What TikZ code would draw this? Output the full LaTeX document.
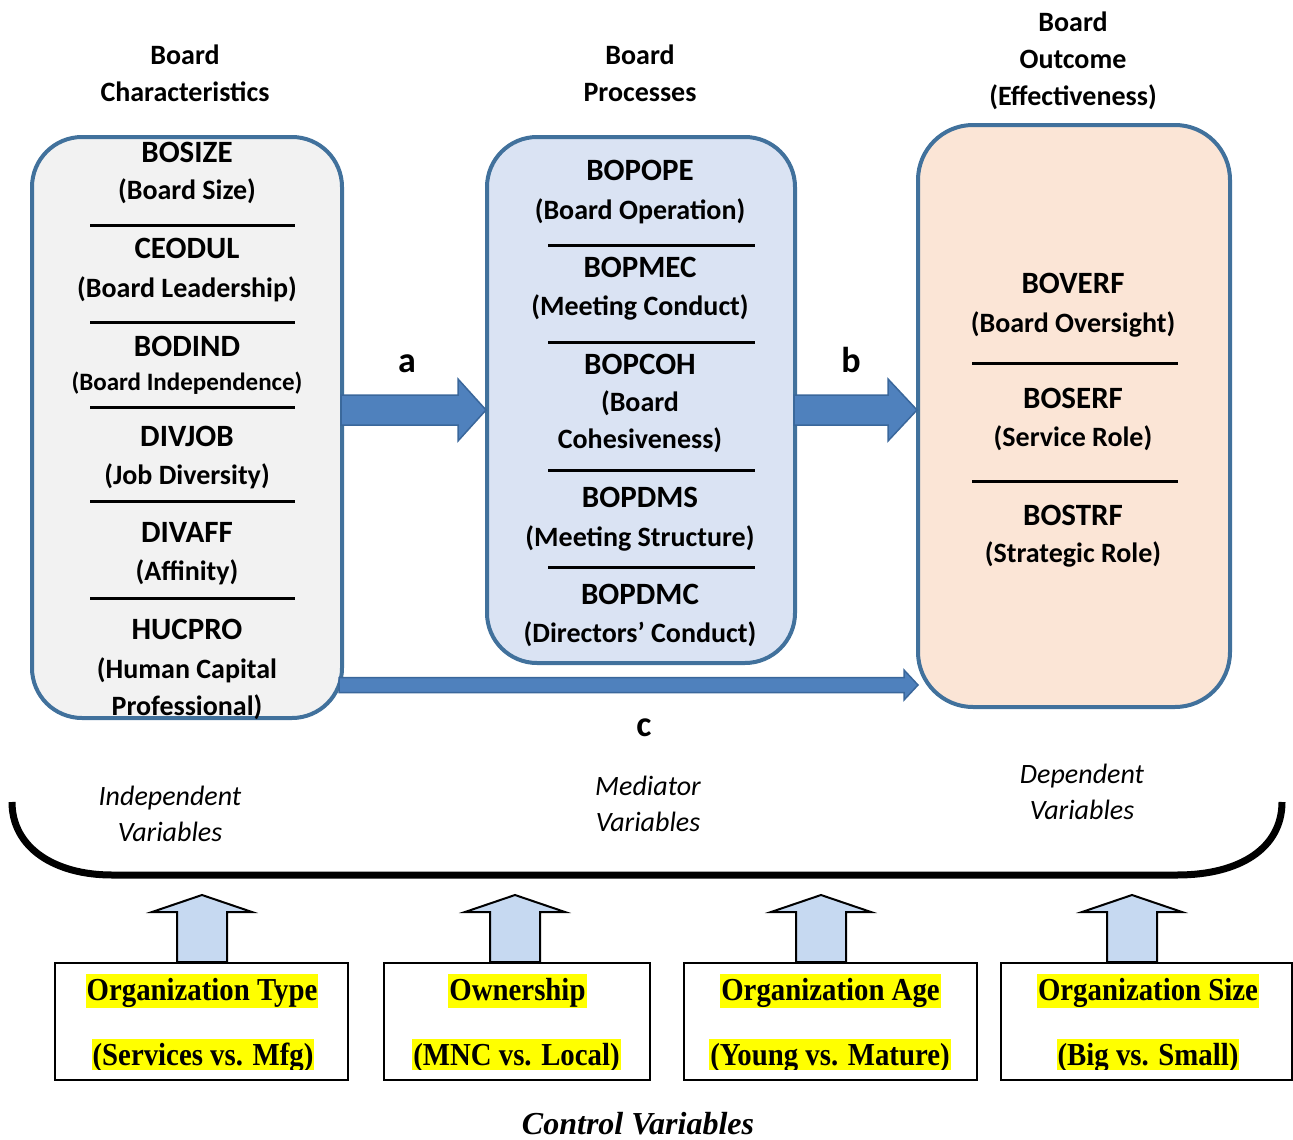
\documentclass[tikz,border=0pt]{standalone}
\usepackage{fontspec}
\setmainfont{Carlito}
\newfontfamily\ctlfont[FakeStretch=0.9]{Liberation Serif}
\newfontfamily\capfont{Liberation Serif}
\usetikzlibrary{calc}

\definecolor{edgeblue}{HTML}{41719C}
\definecolor{charfill}{HTML}{F2F2F2}
\definecolor{procfill}{HTML}{DAE3F3}
\definecolor{outfill}{HTML}{FBE5D6}
\definecolor{arrowblue}{HTML}{4F81BD}
\definecolor{arrowedge}{HTML}{3A679B}
\definecolor{ctlarrow}{HTML}{C6D9F1}
\definecolor{hl}{HTML}{FFFF00}

% horizontal block arrow: from, to, half shaft, half head, head length, style
\newcommand\hblock[6]{%
  \filldraw[#6] ($(#1)+(0,-#3)$) -- ($(#2)+(-#5,-#3)$) -- ($(#2)+(-#5,-#4)$) -- (#2)
    -- ($(#2)+(-#5,#4)$) -- ($(#2)+(-#5,#3)$) -- ($(#1)+(0,#3)$) -- cycle;}
% upward block arrow: base, tip
\newcommand\vblock[2]{%
  \filldraw[uparrow] ($(#1)+(-25,0)$) -- ($(#2)+(-25,17)$) -- ($(#2)+(-50,17)$) -- (#2)
    -- ($(#2)+(50,17)$) -- ($(#2)+(25,17)$) -- ($(#1)+(25,0)$) -- cycle;}

\tikzset{
  varbox/.style={draw=edgeblue, line width=4pt, inner sep=0pt},
  tx/.style={anchor=base, inner sep=0pt, font=\fontsize{28}{34}\selectfont\bfseries},
  code/.style={tx, font=\fontsize{31}{36}\selectfont\bfseries},
  txs/.style={tx, font=\fontsize{25}{30}\selectfont\bfseries},
  itx/.style={anchor=base, inner sep=0pt, font=\fontsize{28}{34}\selectfont\itshape},
  pathlbl/.style={anchor=base, inner sep=0pt, font=\fontsize{36}{40}\selectfont\bfseries},
  divider/.style={line width=3pt},
  bluearrow/.style={fill=arrowblue, draw=arrowedge, line width=1.5pt, line join=miter},
  uparrow/.style={fill=ctlarrow, draw=black, line width=2pt, line join=miter},
  ctlbox/.style={draw=black, line width=2pt, fill=white, minimum height=117pt, inner sep=0pt},
  ctltx/.style={anchor=base, inner xsep=1pt, inner ysep=0pt, fill=hl, text height=26pt, text depth=8pt,
    font=\ctlfont\fontsize{32}{36}\selectfont\bfseries},
  brace/.style={line width=7pt},
}

\begin{document}
\begin{tikzpicture}[x=1pt, y=-1pt]
\useasboundingbox (0,0) rectangle (1293,1140);

% column headings
\node[tx] (h1a) at (185,64) {Board};
\node[tx] (h1b) at (185,101) {Characteristics};
\node[tx] (h2a) at (640,64) {Board};
\node[tx] (h2b) at (640,101) {Processes};
\node[tx] (h3a) at (1073,32) {Board};
\node[tx] (h3b) at (1073,69) {Outcome};
\node[tx] (h3c) at (1073,106) {(Effectiveness)};

% the three variable groups
\node[varbox, fill=charfill, rounded corners=50pt, minimum width=310pt, minimum height=581pt] (char) at (187,427.5) {};
\node[varbox, fill=procfill, rounded corners=50pt, minimum width=308pt, minimum height=526pt] (proc) at (641,400) {};
\node[varbox, fill=outfill, rounded corners=55pt, minimum width=312pt, minimum height=582pt] (out) at (1074,416) {};

% board characteristics
\node[code] (c1a) at (187,162) {BOSIZE};
\node[tx] (c1b) at (187,199) {(Board Size)};
\draw[divider] (90,225) -- (295,225);
\node[code] (c2a) at (187,258) {CEODUL};
\node[tx] (c2b) at (187,297) {(Board Leadership)};
\draw[divider] (90,322) -- (295,322);
\node[code] (c3a) at (187,356) {BODIND};
\node[txs] (c3b) at (187,390) {(Board Independence)};
\draw[divider] (90,407) -- (295,407);
\node[code] (c4a) at (187,446) {DIVJOB};
\node[tx] (c4b) at (187,484) {(Job Diversity)};
\draw[divider] (90,501) -- (295,501);
\node[code] (c5a) at (187,542) {DIVAFF};
\node[tx] (c5b) at (187,580) {(Affinity)};
\draw[divider] (90,598) -- (295,598);
\node[code] (c6a) at (187,639) {HUCPRO};
\node[tx] (c6b) at (187,678) {(Human Capital};
\node[tx] (c6c) at (187,715) {Professional)};

% board processes
\node[code] (p1a) at (640,180) {BOPOPE};
\node[tx] (p1b) at (640,219) {(Board Operation)};
\draw[divider] (548,245) -- (755,245);
\node[code] (p2a) at (640,277) {BOPMEC};
\node[tx] (p2b) at (640,315) {(Meeting Conduct)};
\draw[divider] (548,342) -- (755,342);
\node[code] (p3a) at (640,374) {BOPCOH};
\node[tx] (p3b) at (640,411) {(Board};
\node[tx] (p3c) at (640,448) {Cohesiveness)};
\draw[divider] (548,470) -- (755,470);
\node[code] (p4a) at (640,507) {BOPDMS};
\node[tx] (p4b) at (640,546) {(Meeting Structure)};
\draw[divider] (548,567) -- (755,567);
\node[code] (p5a) at (640,604) {BOPDMC};
\node[tx] (p5b) at (640,642) {(Directors’ Conduct)};

% board outcome
\node[code] (o1a) at (1073,293) {BOVERF};
\node[tx] (o1b) at (1073,332) {(Board Oversight)};
\draw[divider] (972,363) -- (1178,363);
\node[code] (o2a) at (1073,408) {BOSERF};
\node[tx] (o2b) at (1073,446) {(Service Role)};
\draw[divider] (972,481) -- (1178,481);
\node[code] (o3a) at (1073,525) {BOSTRF};
\node[tx] (o3b) at (1073,562) {(Strategic Role)};

% paths a, b, c
\coordinate (aS) at ($(char.east |- 0,410)+(-3,0)$);
\coordinate (aE) at ($(proc.west |- 0,410)+(1,0)$);
\hblock{aS}{aE}{15}{31}{28}{bluearrow}
\coordinate (bS) at ($(proc.east |- 0,410)+(-3,0)$);
\coordinate (bE) at ($(out.west |- 0,410)+(1,0)$);
\hblock{bS}{bE}{15}{31}{29}{bluearrow}
\coordinate (cS) at ($(char.east |- 0,685)+(-5,0)$);
\coordinate (cE) at ($(out.west |- 0,685)+(2,0)$);
\hblock{cS}{cE}{7.5}{15}{14}{bluearrow}
\node[pathlbl] (la) at (407,372) {a};
\node[pathlbl] (lb) at (851,372) {b};
\node[pathlbl] (lc) at (644,736) {c};

% variable roles
\node[itx] (r1a) at (170,805) {Independent};
\node[itx] (r1b) at (170,841) {Variables};
\node[itx] (r2a) at (648,795) {Mediator};
\node[itx] (r2b) at (648,831) {Variables};
\node[itx] (r3a) at (1082,783) {Dependent};
\node[itx] (r3b) at (1082,819) {Variables};

% bracket over the whole model
\draw[brace] (12,802) .. controls (12,848) and (55,875) .. (112,875) -- (1177,875)
  .. controls (1240,875) and (1282,848) .. (1282,802);

% control variables
\node[ctlbox, minimum width=293pt] (ctl1) at (201.5,1021.5) {};
\node[ctlbox, minimum width=266pt] (ctl2) at (517,1021.5) {};
\node[ctlbox, minimum width=293pt] (ctl3) at (830.5,1021.5) {};
\node[ctlbox, minimum width=291pt] (ctl4) at (1146.5,1021.5) {};

\coordinate (u1) at (202,895);
\coordinate (u2) at (515,895);
\coordinate (u3) at (821,895);
\coordinate (u4) at (1132,895);
\vblock{u1 |- ctl1.north}{u1}
\vblock{u2 |- ctl2.north}{u2}
\vblock{u3 |- ctl3.north}{u3}
\vblock{u4 |- ctl4.north}{u4}

\node[ctltx] (k1a) at (202,1000) {Organization Type};
\node[ctltx] (k2a) at (517.5,1000) {Ownership};
\node[ctltx] (k3a) at (830.5,1000) {Organization Age};
\node[ctltx] (k4a) at (1148,1000) {Organization Size};
\begin{scope}
  \clip (0,0) rectangle (1293,1069);
  \node[ctltx] (k1b) at (203,1065) {(Services vs. Mfg)};
  \node[ctltx] (k2b) at (516.5,1065) {(MNC vs. Local)};
  \node[ctltx] (k3b) at (830,1065) {(Young vs. Mature)};
  \node[ctltx] (k4b) at (1148,1065) {(Big vs. Small)};
\end{scope}

\node[anchor=base, inner sep=0pt, font=\capfont\fontsize{32}{36}\selectfont\bfseries\itshape] (ctlcap) at (638,1134) {Control Variables};
\end{tikzpicture}
\end{document}
